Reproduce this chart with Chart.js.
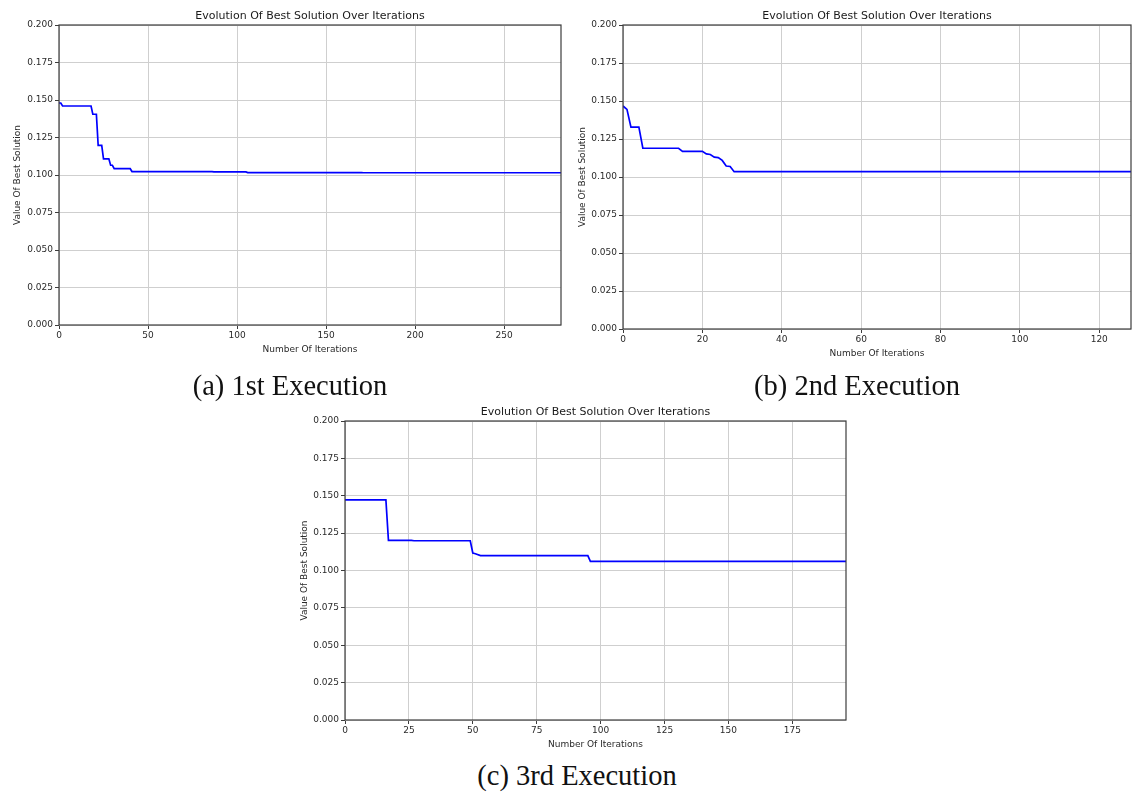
<!DOCTYPE html>
<html>
<head>
<meta charset="utf-8">
<script src="https://cdn.jsdelivr.net/npm/chart.js@4/dist/chart.umd.min.js"></script>
<style>
  html, body { margin: 0; padding: 0; background: #fff; }
  body { width: 1136px; height: 796px; position: relative; overflow: hidden; }
  .panel { position: absolute; }
  .caption {
    position: absolute; font-family: "Liberation Serif", "Times New Roman", serif;
    font-size: 28.5px; color: #111; white-space: nowrap; transform: translateX(-50%);
    line-height: 1;
  }
</style>
</head>
<body>
<div class="panel" style="left:0px;top:0px;width:575px;height:360px"><canvas id="cA"></canvas></div>
<div class="panel" style="left:565px;top:0px;width:571px;height:364px"><canvas id="cB"></canvas></div>
<div class="panel" style="left:287px;top:396px;width:570px;height:356px"><canvas id="cC"></canvas></div>
<div class="caption" style="left:290px;top:372px">(a) 1st Execution</div>
<div class="caption" style="left:857px;top:372px">(b) 2nd Execution</div>
<div class="caption" style="left:577px;top:762px">(c) 3rd Execution</div>
<script>
// Best solution value after each improvement, per run
const iterA = [0, 1, 2, 18, 19, 21, 22, 24, 25, 28, 29, 30, 31, 40, 41, 86, 87, 105, 106, 170, 171, 282];
const valA  = [0.148, 0.148, 0.146, 0.146, 0.1405, 0.1405, 0.1197, 0.1197, 0.1108, 0.1108, 0.1065, 0.1065,
               0.1042, 0.1042, 0.1023, 0.1023, 0.1021, 0.1021, 0.1016, 0.1016, 0.1015, 0.1015];

const iterB = [0, 1, 2, 4, 5, 14, 15, 20, 21, 22, 23, 24, 25, 26, 27, 28, 128];
const valB  = [0.1467, 0.1445, 0.1328, 0.1328, 0.1189, 0.1189, 0.1169, 0.1169, 0.1152, 0.1148,
               0.1131, 0.1128, 0.1109, 0.1072, 0.1069, 0.1035, 0.1035];

const iterC = [0, 16, 17, 26, 27, 49, 50, 51, 53, 95, 96, 196];
const valC  = [0.1473, 0.1473, 0.1201, 0.1201, 0.1199, 0.1199, 0.1117, 0.1112, 0.1100, 0.1100, 0.1061, 0.1061];

// Axis extents and tick spacing
const xMaxA = 282, xStepA = 50;
const xMaxB = 128, xStepB = 20;
const xMaxC = 196, xStepC = 25;
const yMax = 0.2, yStep = 0.025;

const titleText = 'Evolution Of Best Solution Over Iterations';
const xTitle = 'Number Of Iterations';
const yTitle = 'Value Of Best Solution';

const FONT = '"DejaVu Sans", sans-serif';

// Closed box around the plotting area, plus a title centred over the axes
const framePlugin = {
  id: 'frame',
  afterDatasetsDraw(chart) {
    const { ctx, chartArea: a } = chart;
    ctx.save();
    ctx.strokeStyle = '#3c3c3c';
    ctx.lineWidth = 1.2;
    ctx.strokeRect(a.left, a.top, a.right - a.left, a.bottom - a.top);
    ctx.fillStyle = '#1a1a1a';
    ctx.font = '11px ' + FONT;
    ctx.textAlign = 'center';
    ctx.textBaseline = 'middle';
    ctx.fillText(chart.options.plugins.frame.title, (a.left + a.right) / 2, a.top - 9);
    ctx.restore();
  }
};

function makeChart(id, iters, vals, xMax, xStep, yAxisW, padRight, xAxisH, padBottom) {
  const pts = iters.map((x, i) => ({ x: x, y: vals[i] }));
  return new Chart(document.getElementById(id), {
    type: 'line',
    data: {
      datasets: [{
        data: pts,
        borderColor: '#0000ff',
        borderWidth: 1.7,
        pointRadius: 0,
        tension: 0,
        fill: false
      }]
    },
    options: {
      responsive: true,
      maintainAspectRatio: false,
      animation: false,
      layout: { padding: { top: 25, left: 0, right: padRight, bottom: padBottom } },
      plugins: {
        legend: { display: false },
        tooltip: { enabled: false },
        title: { display: false },
        frame: { title: titleText }
      },
      scales: {
        x: {
          type: 'linear', min: 0, max: xMax,
          afterFit(s) { s.height = xAxisH; },
          border: { display: false },
          grid: { color: '#cfcfcf', lineWidth: 1, tickLength: 4, tickColor: '#3c3c3c' },
          ticks: {
            stepSize: xStep, includeBounds: false, color: '#2a2a2a', padding: 1,
            maxRotation: 0, font: { family: FONT, size: 9 }
          },
          title: {
            display: true, text: xTitle, color: '#2a2a2a',
            font: { family: FONT, size: 9 }, padding: { top: 0, bottom: 0 }
          }
        },
        y: {
          min: 0, max: yMax,
          afterFit(s) { s.width = yAxisW; },
          border: { display: false },
          grid: { color: '#cfcfcf', lineWidth: 1, tickLength: 4, tickColor: '#3c3c3c' },
          ticks: {
            stepSize: yStep, color: '#2a2a2a', padding: 2,
            font: { family: FONT, size: 9 },
            callback: v => Number(v).toFixed(3)
          },
          title: {
            display: true, text: yTitle, color: '#2a2a2a',
            font: { family: FONT, size: 9 }, padding: { top: 12, bottom: 2 }
          }
        }
      }
    },
    plugins: [framePlugin]
  });
}

makeChart('cA', iterA, valA, xMaxA, xStepA, 59, 14, 30, 5);
makeChart('cB', iterB, valB, xMaxB, xStepB, 58, 5, 30, 5);
makeChart('cC', iterC, valC, xMaxC, xStepC, 58, 11, 30, 2);
</script>
</body>
</html>
